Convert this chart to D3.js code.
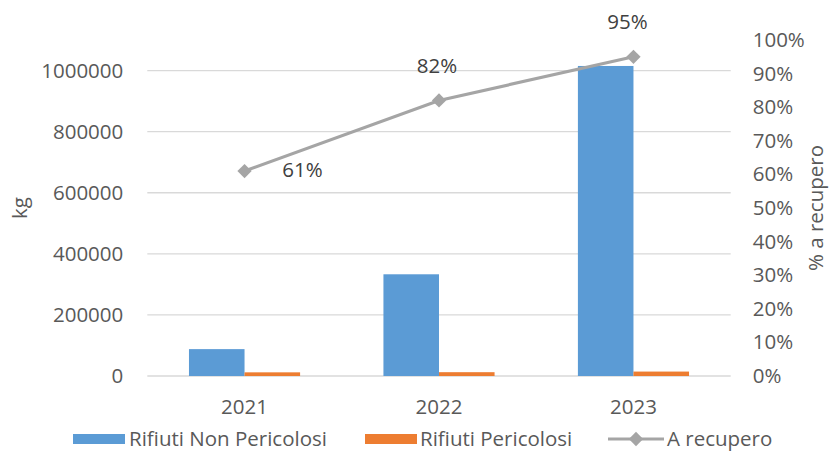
<!DOCTYPE html>
<html><head><meta charset="utf-8">
<script src="https://cdn.jsdelivr.net/npm/d3@7"></script>
<style>body{margin:0;background:#fff}svg{display:block}text{font-family:"Open Sans",sans-serif}</style>
</head><body>
<script>
const categories = ["2021","2022","2023"];
const nonPericolosi = [88000, 333000, 1015000];
const pericolosi = [12000, 12500, 14500];
const recupero = [0.61, 0.82, 0.95];
const leftTicks = [0,200000,400000,600000,800000,1000000];
const rightTicks = [0,0.1,0.2,0.3,0.4,0.5,0.6,0.7,0.8,0.9,1.0];
const seriesNames = ["Rifiuti Non Pericolosi","Rifiuti Pericolosi","A recupero"];

const W=829,H=451;
const m={l:147.3,r:829-730.7,t:40,b:451-376};
const svg=d3.select("body").append("svg").attr("width",W).attr("height",H);
const x=d3.scaleBand().domain(categories).range([m.l,W-m.r]);
const yL=d3.scaleLinear().domain([0,1100000]).range([H-m.b,m.t]);
const yR=d3.scaleLinear().domain([0,1]).range([H-m.b,m.t]);
const bw=x.step()/3.5;
const fs=20.5, txt="#595959";

// gridlines
svg.append("g").selectAll("line").data(leftTicks).join("line")
  .attr("x1",m.l).attr("x2",W-m.r).attr("y1",d=>yL(d)).attr("y2",d=>yL(d))
  .attr("stroke","#d9d9d9").attr("stroke-width",1.3);

// left axis
const ax=d3.axisLeft(yL).tickValues(leftTicks).tickSize(0).tickPadding(24).tickFormat(d3.format("d"));
const gL=svg.append("g").attr("transform",`translate(${m.l},0)`).call(ax);
gL.select(".domain").remove();
gL.selectAll("text").attr("font-size",fs).attr("fill",txt).attr("font-family","Open Sans");

// right axis
const ar=d3.axisRight(yR).tickValues(rightTicks).tickSize(0).tickPadding(22).tickFormat(d3.format(".0%"));
const gR=svg.append("g").attr("transform",`translate(${W-m.r},0)`).call(ar);
gR.select(".domain").remove();
gR.selectAll("text").attr("font-size",fs).attr("fill",txt).attr("font-family","Open Sans");

// x axis
const axb=d3.axisBottom(x).tickSize(0).tickPadding(23);
const gB=svg.append("g").attr("transform",`translate(0,${H-m.b})`).call(axb);
gB.select(".domain").remove();
gB.selectAll("text").attr("font-size",fs).attr("fill",txt).attr("font-family","Open Sans");

// bars
const cx=d=>x(d)+x.bandwidth()/2;
svg.append("g").selectAll("rect").data(categories).join("rect")
  .attr("x",d=>cx(d)-bw).attr("width",bw)
  .attr("y",(d,i)=>yL(nonPericolosi[i])).attr("height",(d,i)=>yL(0)-yL(nonPericolosi[i]))
  .attr("fill","#5b9bd5");
svg.append("g").selectAll("rect").data(categories).join("rect")
  .attr("x",d=>cx(d)).attr("width",bw)
  .attr("y",(d,i)=>yL(pericolosi[i])).attr("height",(d,i)=>yL(0)-yL(pericolosi[i]))
  .attr("fill","#ed7d31");

// line
const line=d3.line().x((d,i)=>cx(categories[i])).y(d=>yR(d));
svg.append("path").datum(recupero).attr("d",line).attr("fill","none")
  .attr("stroke","#a5a5a5").attr("stroke-width",3.2);
const diamond=d3.symbol().type(d3.symbolDiamond2).size(130);
svg.append("g").selectAll("path").data(recupero).join("path")
  .attr("transform",(d,i)=>`translate(${cx(categories[i])},${yR(d)})`)
  .attr("d",diamond).attr("fill","#a5a5a5");

// data labels
const lblPos=[{dx:58,dy:-1,a:"middle"},{dx:-2,dy:-35,a:"middle"},{dx:-6,dy:-35,a:"middle"}];
svg.append("g").selectAll("text").data(recupero).join("text")
  .attr("x",(d,i)=>cx(categories[i])+lblPos[i].dx)
  .attr("y",(d,i)=>yR(d)+lblPos[i].dy)
  .attr("dy","0.35em").attr("text-anchor",(d,i)=>lblPos[i].a)
  .attr("font-size",fs).attr("fill","#404040").text(d=>d3.format(".0%")(d));

// axis titles
svg.append("text").attr("transform","translate(27,208) rotate(-90)").attr("text-anchor","middle")
  .attr("font-size",fs).attr("fill",txt).text("kg");
svg.append("text").attr("transform","translate(823,208) rotate(-90)").attr("text-anchor","middle")
  .attr("font-size",fs).attr("fill",txt).text("% a recupero");

// legend
const ly=439;
const lg=svg.append("g");
const legX=[73,365,608];
lg.append("rect").attr("x",legX[0]).attr("y",ly-5).attr("width",52).attr("height",10).attr("fill","#5b9bd5");
lg.append("rect").attr("x",legX[1]).attr("y",ly-5).attr("width",52).attr("height",10).attr("fill","#ed7d31");
lg.append("line").attr("x1",legX[2]).attr("x2",legX[2]+56).attr("y1",ly).attr("y2",ly).attr("stroke","#a5a5a5").attr("stroke-width",3.2);
lg.append("path").attr("transform",`translate(${legX[2]+28},${ly})`).attr("d",diamond).attr("fill","#a5a5a5");
const legTx=[129,420,667];
lg.selectAll("text").data(seriesNames).join("text")
  .attr("x",(d,i)=>legTx[i]).attr("y",ly).attr("dy","0.35em")
  .attr("font-size",fs).attr("fill",txt).text(d=>d);
</script>
</body></html>
